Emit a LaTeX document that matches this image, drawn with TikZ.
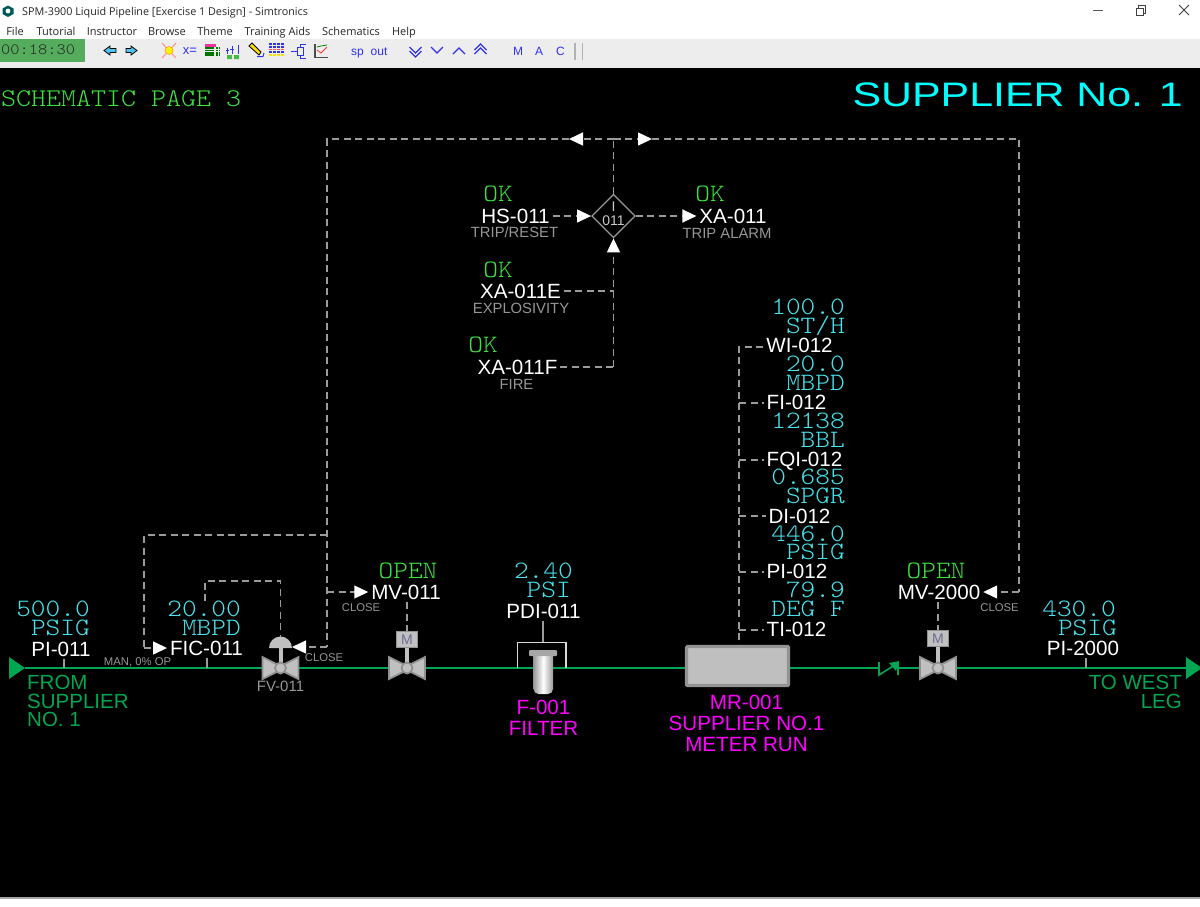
\documentclass[tikz,border=0pt]{standalone}
\usepackage{fontspec}
\setmainfont{Liberation Sans}
\setmonofont[FakeStretch=1.12]{Latin Modern Mono Light}
\newfontfamily\menufont{Open Sans}
\usetikzlibrary{arrows.meta}
\definecolor{panelgreen}{RGB}{62,228,62}
\definecolor{valuecyan}{RGB}{72,228,238}
\definecolor{titlecyan}{RGB}{0,255,255}
\definecolor{equipmagenta}{RGB}{255,0,255}
\definecolor{pipegreen}{RGB}{0,166,81}
\definecolor{sigrey}{RGB}{155,155,155}
\definecolor{subgrey}{RGB}{150,150,150}
\definecolor{barblue}{RGB}{50,50,235}
\definecolor{clockgreen}{RGB}{84,172,92}
\definecolor{valvefill}{RGB}{192,192,192}
\definecolor{valveedge}{RGB}{145,145,145}
\tikzset{
    tag/.style={text=white,inner sep=0pt,outer sep=3pt,font=\fontsize{20.6}{22}\selectfont,text height=14.7pt,text depth=0pt},
    subtag/.style={text=subgrey,inner sep=0pt,font=\fontsize{14.8}{16}\selectfont,text height=10.6pt,text depth=0pt},
    smalltag/.style={text=subgrey,inner sep=0pt,font=\fontsize{11.3}{13}\selectfont,text height=8.1pt,text depth=0pt},
    value/.style={text=valuecyan,inner sep=0pt,anchor=east,font=\ttfamily\fontsize{25}{27}\selectfont,text height=15.3pt,text depth=0pt},
    status/.style={text=panelgreen,inner sep=0pt,font=\ttfamily\fontsize{25}{27}\selectfont,text height=15.3pt,text depth=0pt},
    pipetext/.style={text=pipegreen,inner sep=0pt,font=\fontsize{20.5}{18.6}\selectfont},
    equiptext/.style={text=equipmagenta,inner sep=0pt,align=center,anchor=north,font=\fontsize{20.6}{20.8}\selectfont},
    menu/.style={text=black!85,inner sep=0pt,font=\menufont\fontsize{11}{13}\selectfont,text height=8.4pt,text depth=0pt},
    barword/.style={text=barblue,inner sep=0pt,font=\fontsize{12}{13}\selectfont,text height=8.6pt,text depth=0pt},
    sig/.style={draw=sigrey,line width=1.3pt,dash pattern=on 7pt off 4.5pt},
    sigtip/.style={sig,-{Triangle[length=14pt,width=13pt,color=white]}},
    stub/.style={draw=sigrey,line width=1.2pt},
    pipe/.style={draw=pipegreen,line width=2.4pt},
    chevron/.style={draw=barblue,line width=1.3pt},
    stem/.style={draw=valvefill,line width=4pt},
    valvepart/.style={draw=valveedge,line width=1.8pt,fill=valvefill},
    motorbox/.style={draw=valveedge,line width=1pt,fill=valvefill,text=gray!85!blue,inner sep=0pt,minimum width=21pt,minimum height=16pt,font=\fontsize{14}{15}\selectfont},
    valvebody/.pic={
        \draw[valvepart] (-18,-11) -- (-4,-4) -- (-4,4) -- (-18,11) -- cycle;
        \draw[valvepart] (18,-11) -- (4,-4) -- (4,4) -- (18,11) -- cycle;
        \draw[valvepart] (0,0) circle [radius=5.5];
    }
}
\begin{document}
\begin{tikzpicture}[x=1pt,y=-1pt]
    \useasboundingbox (0,0) rectangle (1200,906);
    % window
    \fill[white] (0,0) rectangle (1200,906);
    \fill[black!7] (0,39) rectangle (1200,68);
    \fill[black] (0,68) rectangle (1200,897);
    \fill[gray!70] (0,897) rectangle (1200,899);
    \fill[teal!70!black] (8,5.5) -- (13.5,8.5) -- (13.5,14) -- (8,17) -- (2.5,14) -- (2.5,8.5) -- cycle;
    \fill[white] (8,11) circle [radius=2.4];
    \node[menu,anchor=west,font=\menufont\fontsize{10.8}{13}\selectfont] (title) at (22,11) {SPM-3900 Liquid Pipeline [Exercise 1 Design] - Simtronics};
    \node[menu] (mfile) at (15,31) {File};
    \node[menu] (mtut) at (56,31) {Tutorial};
    \node[menu] (minst) at (112,31) {Instructor};
    \node[menu] (mbrowse) at (167,31) {Browse};
    \node[menu] (mtheme) at (215,31) {Theme};
    \node[menu] (mtrain) at (277.5,31) {Training Aids};
    \node[menu] (mschem) at (351,31) {Schematics};
    \node[menu] (mhelp) at (404,31) {Help};
    \draw[black!65,line width=1pt] (1093,10) -- (1103,10);
    \draw[black!75,line width=.9pt] (1136,8) rectangle (1143,15);
    \draw[black!75,line width=.9pt] (1138,8) -- (1138,5.5) -- (1145,5.5) -- (1145,13) -- (1143,13);
    \draw[black!75,line width=.9pt] (1179,5) -- (1189,15) (1189,5) -- (1179,15);
    % toolbar
    \fill[clockgreen] (0,39) rectangle (85,62);
    \node[text=black!85,inner sep=0pt,anchor=west,font=\ttfamily\fontsize{15.7}{17}\selectfont] (clock) at (1,50) {00:18:30};
    \draw[black,fill=cyan!70,line width=.8pt] (104,50.5) -- (110,46) -- (110,48.5) -- (116,48.5) -- (116,52.5) -- (110,52.5) -- (110,55) -- cycle;
    \draw[black,fill=cyan!70,line width=.8pt] (137,50.5) -- (131,46) -- (131,48.5) -- (126,48.5) -- (126,52.5) -- (131,52.5) -- (131,55) -- cycle;
    \draw[red!45,line width=1pt] (162,43) -- (176,58) (176,43) -- (162,58);
    \draw[orange,fill=yellow] (169,50.5) circle [radius=4];
    \node[barword,font=\fontsize{13}{14}\selectfont] (xeq) at (190,50) {x=};
    \fill[magenta!80] (205,44) rectangle (216,46.5);
    \foreach \y in {48,50.5,53,55} {
        \draw[green!45!black,line width=1.2pt] (205,\y) -- (214,\y);
        \draw[green!45!black,line width=1.2pt,dash pattern=on 2pt off 1pt] (216,\y) -- (220,\y);
    }
    \draw[barblue,line width=1pt] (227,48) -- (227,54) (232,46) -- (232,54) (238,45) -- (238,54) (226,50) -- (229,50) (230,49) -- (234,49);
    \fill[green!45!gray] (227,55) rectangle (232,59) (234,55) rectangle (239,59);
    \draw[black,fill=yellow!80!orange,line width=.8pt] (249,46) -- (252,43) -- (261,52) -- (259,55) -- cycle;
    \draw[barblue,line width=1pt] (257,56.5) -- (263,56.5) -- (264,53);
    \foreach \y/\c in {44/barblue,47/barblue,49.5/red!70,52/barblue,55/yellow!85!orange} {
        \draw[\c,line width=1.1pt,dash pattern=on 3pt off 1pt] (269,\y) -- (284,\y);
    }
    \draw[barblue,line width=1pt] (291,51) -- (297,51) (306,44) -- (300,44) -- (300,47) (306,58) -- (300,58) -- (300,55);
    \draw[barblue,line width=1pt] (297,47) rectangle (303,55);
    \draw[black!70,line width=1.1pt] (315,44) -- (315,57.5) -- (328,57.5);
    \draw[red!80,line width=.8pt] (317,50) -- (321,53) -- (327,47);
    \draw[green!50!black,line width=.8pt] (317,47) -- (321,46) -- (327,45);
    \node[barword] (sp) at (357.5,51) {sp};
    \node[barword] (outw) at (379,51) {out};
    \foreach \x in {415.5,437} {\draw[chevron] (\x-6,47) -- (\x,53) -- (\x+6,47);}
    \draw[chevron] (409.5,51) -- (415.5,57) -- (421.5,51);
    \foreach \x in {459,480.5} {\draw[chevron] (\x-6,54) -- (\x,48) -- (\x+6,54);}
    \draw[chevron] (474.5,50) -- (480.5,44) -- (486.5,50);
    \node[barword] (mbtn) at (518,51) {M};
    \node[barword] (abtn) at (539,51) {A};
    \node[barword] (cbtn) at (560.5,51) {C};
    \draw[gray!60,line width=1.6pt] (575,43) -- (575,60);
    \draw[gray!60,line width=.8pt] (582,43) -- (582,60);
    % headings
    \node[text=panelgreen,inner sep=0pt,anchor=west,font=\ttfamily\fontsize{25.5}{27}\selectfont] (page) at (1,99) {SCHEMATIC PAGE 3};
    \node[text=titlecyan,inner sep=0pt,anchor=base east,font=\fontsize{34}{36}\selectfont] (supplier) at (1183,106) {\scalebox{1.26}[1]{SUPPLIER No. 1}};
    % main pipe
    \coordinate (pipein) at (25,668);
    \coordinate (pipeout) at (1186,668);
    \coordinate (checkin) at (879,668);
    \coordinate (checkout) at (898,668);
    \draw[pipe] (pipein) -- (checkin);
    \draw[pipe] (checkout) -- (pipeout);
    \fill[pipegreen] (9,657) -- (25,668) -- (9,679) -- cycle;
    \fill[pipegreen] (1186,657) -- (1202,668) -- (1186,679) -- cycle;
    \draw[pipegreen,line width=1.6pt] (879,662) -- (879,675) -- (898,663) -- (898,675);
    \fill[pipegreen] (899,661) -- (889,663) -- (896,671) -- cycle;
    \node[pipetext,align=left,anchor=north west] (fromtext) at (27,675) {FROM\\SUPPLIER\\NO. 1};
    \node[pipetext,align=right,anchor=north east] (towest) at (1182,675) {TO WEST\\LEG};
    % interlock
    \node[draw=gray!80,line width=1.2pt,shape=rectangle,rotate=45,minimum size=30.5pt,inner sep=0pt] (d011) at (613.5,216) {};
    \node[text=subgrey!50!white,inner sep=0pt,font=\fontsize{14}{15}\selectfont] (d011top) at (613.5,207) {I};
    \node[text=subgrey!50!white,inner sep=0pt,font=\fontsize{14}{15}\selectfont] (d011num) at (613.5,221) {011};
    \node[status] (okhs) at (498,194) {OK};
    \node[tag] (hs011) at (515.5,216) {HS-011};
    \node[subtag] (hsnote) at (514.5,232) {TRIP/RESET};
    \node[status] (okxa) at (710,194) {OK};
    \node[tag] (xa011) at (733,216) {XA-011};
    \node[subtag] (xanote) at (727,233) {TRIP ALARM};
    \node[status] (oke) at (498,270) {OK};
    \node[tag] (xa011e) at (520.5,291) {XA-011E};
    \node[subtag] (xaenote) at (521,308) {EXPLOSIVITY};
    \node[status] (okf) at (483,345) {OK};
    \node[tag] (xa011f) at (517.5,367) {XA-011F};
    \node[subtag] (xafnote) at (516.5,384) {FIRE};
    \coordinate (bustee) at (613.5,139);
    \coordinate (busarrl) at (569,139);
    \coordinate (busarrr) at (652,139);
    \coordinate (busleft) at (327,139);
    \coordinate (busright) at (1019,139);
    \coordinate (joine) at (613.5,291);
    \coordinate (joinf) at (613.5,367);
    \draw[sig] (d011.north east) -- (bustee);
    \draw[sigtip] (bustee) -- (busarrl);
    \draw[sigtip] (bustee) -- (busarrr);
    \draw[sigtip] (hs011.east) -- (d011.north west);
    \draw[sigtip] (d011.south east) -- (xa011.west);
    \draw[sig] (xa011e.east) -- (joine);
    \draw[sig] (xa011f.east) -- (joinf);
    \draw[sigtip] (joinf) -- (d011.south west);
    % feed line, left side
    \coordinate (turnfv) at (327,647);
    \coordinate (fvtip) at (292,647);
    \coordinate (branchfic) at (327,535);
    \coordinate (ficout) at (144,535);
    \coordinate (ficdown) at (144,648);
    \coordinate (branchmv) at (327,592);
    \coordinate (pitap) at (64,668);
    \coordinate (fictap) at (207,668);
    \node[value] (pival) at (90,609) {500.0};
    \node[value] (piunit) at (90,628) {PSIG};
    \node[tag] (pi011) at (61,649) {PI-011};
    \node[value] (ficval) at (241,609) {20.00};
    \node[value] (ficunit) at (241,628) {MBPD};
    \node[tag] (fic011) at (206.5,648) {FIC-011};
    \node[smalltag] (manop) at (137.5,661) {MAN, 0\% OP};
    \node[status] (openmv) at (408,571) {OPEN};
    \node[tag] (mv011) at (406,592) {MV-011};
    \node[smalltag] (closemv) at (361,607) {CLOSE};
    \node[smalltag] (closefv) at (324,657) {CLOSE};
    \node[subtag,font=\fontsize{15}{16}\selectfont] (fv011) at (280.5,686) {FV-011};
    \draw[sig] (busarrl) -- (busleft) -- (turnfv);
    \draw[sigtip] (turnfv) -- (fvtip);
    \draw[sig] (branchfic) -- (ficout) -- (ficdown);
    \draw[sigtip] (ficdown) -- (ficdown -| fic011.west);
    \draw[sigtip] (branchmv) -- (mv011.west);
    \draw[stub] (pi011.south -| pitap) -- (pitap);
    \draw[stub] (fic011.south -| fictap) -- (fictap);
    % control valve
    \coordinate (fvtop) at (280.5,637);
    \coordinate (ficup) at (205,581);
    \coordinate (fvup) at (280.5,581);
    \draw[sig] (ficval.north -| ficup) -- (ficup) -- (fvup) -- (fvtop);
    \draw[stem] (280.5,648) -- (280.5,668);
    \fill[valvefill] (269,648) arc (180:360:11.5) -- cycle;
    \pic at (280.5,668) {valvebody};
    % motor valve 011
    \node[motorbox] (mbox011) at (407,639.5) {M};
    \draw[sig] (mv011.south -| mbox011.north) -- (mbox011.north);
    \draw[stem] (mbox011.south) -- (407,668);
    \pic at (407,668) {valvebody};
    % filter
    \node[value] (pdival) at (573,571) {2.40};
    \node[value] (pdiunit) at (571,590) {PSI};
    \node[tag] (pdi011) at (543.5,611) {PDI-011};
    \coordinate (filtertop) at (543,642.5);
    \draw[stub] (pdi011.south -| filtertop) -- (filtertop);
    \draw[white!85!black,line width=1.1pt] (517.5,668) -- (517.5,642.5) -- (566,642.5) -- (566,668);
    \shade[left color=gray!80,right color=gray!80,middle color=white] (533.5,655) -- (553,655) -- (553,689) arc (0:90:5) -- (538.5,694) arc (90:180:5) -- cycle;
    \fill[gray!70,rounded corners=1pt] (529,650) rectangle (557,656);
    \node[equiptext] (filtertext) at (543.5,700) {F-001\\FILTER};
    % meter run
    \node[draw=gray!85,line width=3.2pt,fill=gray!50,rounded corners=1pt,minimum width=102pt,minimum height=39pt,inner sep=0pt] (mr001) at (737.5,666) {};
    \node[equiptext] (mrtext) at (746.5,695) {MR-001\\SUPPLIER NO.1\\METER RUN};
    \node[value] (wival) at (845,307) {100.0};
    \node[value] (wiunit) at (845,326) {ST/H};
    \node[tag] (wi012) at (799.5,345) {WI-012};
    \node[value] (fival) at (845,364) {20.0};
    \node[value] (fiunit) at (845,383) {MBPD};
    \node[tag] (fi012) at (796.5,402) {FI-012};
    \node[value] (fqval) at (845,421) {12138};
    \node[value] (fqunit) at (845,440) {BBL};
    \node[tag] (fqi012) at (804.5,459) {FQI-012};
    \node[value] (dival) at (845,477) {0.685};
    \node[value] (diunit) at (845,496) {SPGR};
    \node[tag] (di012) at (799.5,516) {DI-012};
    \node[value] (ppval) at (845,534) {446.0};
    \node[value] (ppunit) at (845,552) {PSIG};
    \node[tag] (pi012) at (797,571) {PI-012};
    \node[value] (tival) at (845,590) {79.9};
    \node[value] (tiunit) at (845,609) {DEG F};
    \node[tag] (ti012) at (796.5,629) {TI-012};
    \coordinate (treetop) at (739,347);
    \coordinate (treefi) at (739,403);
    \coordinate (treefq) at (739,460);
    \coordinate (treedi) at (739,516);
    \coordinate (treepi) at (739,572);
    \coordinate (treeti) at (739,630);
    \draw[sig] (wi012.west |- treetop) -- (treetop) -- (mr001.north -| treetop);
    \draw[sig] (treefi) -- (fi012.west |- treefi);
    \draw[sig] (treefq) -- (fqi012.west |- treefq);
    \draw[sig] (treedi) -- (di012.west |- treedi);
    \draw[sig] (treepi) -- (pi012.west |- treepi);
    \draw[sig] (treeti) -- (ti012.west |- treeti);
    % motor valve 2000
    \node[status] (openmvb) at (936,571) {OPEN};
    \node[tag] (mv2000) at (939,592) {MV-2000};
    \node[smalltag] (closemvb) at (999.5,607) {CLOSE};
    \coordinate (turnmvb) at (1019,592);
    \draw[sig] (busarrr) -- (busright) -- (turnmvb);
    \draw[sigtip] (turnmvb) -- (mv2000.east);
    \node[motorbox] (mbox2000) at (938,638.5) {M};
    \draw[sig] (mv2000.south -| mbox2000.north) -- (mbox2000.north);
    \draw[stem] (mbox2000.south) -- (938,668);
    \pic at (938,668) {valvebody};
    \node[value] (pibval) at (1116,609) {430.0};
    \node[value] (pibunit) at (1117,628) {PSIG};
    \node[tag] (pi2000) at (1083,648) {PI-2000};
    \coordinate (pibtap) at (1086,668);
    \draw[stub] (pi2000.south -| pibtap) -- (pibtap);
\end{tikzpicture}
\end{document}
